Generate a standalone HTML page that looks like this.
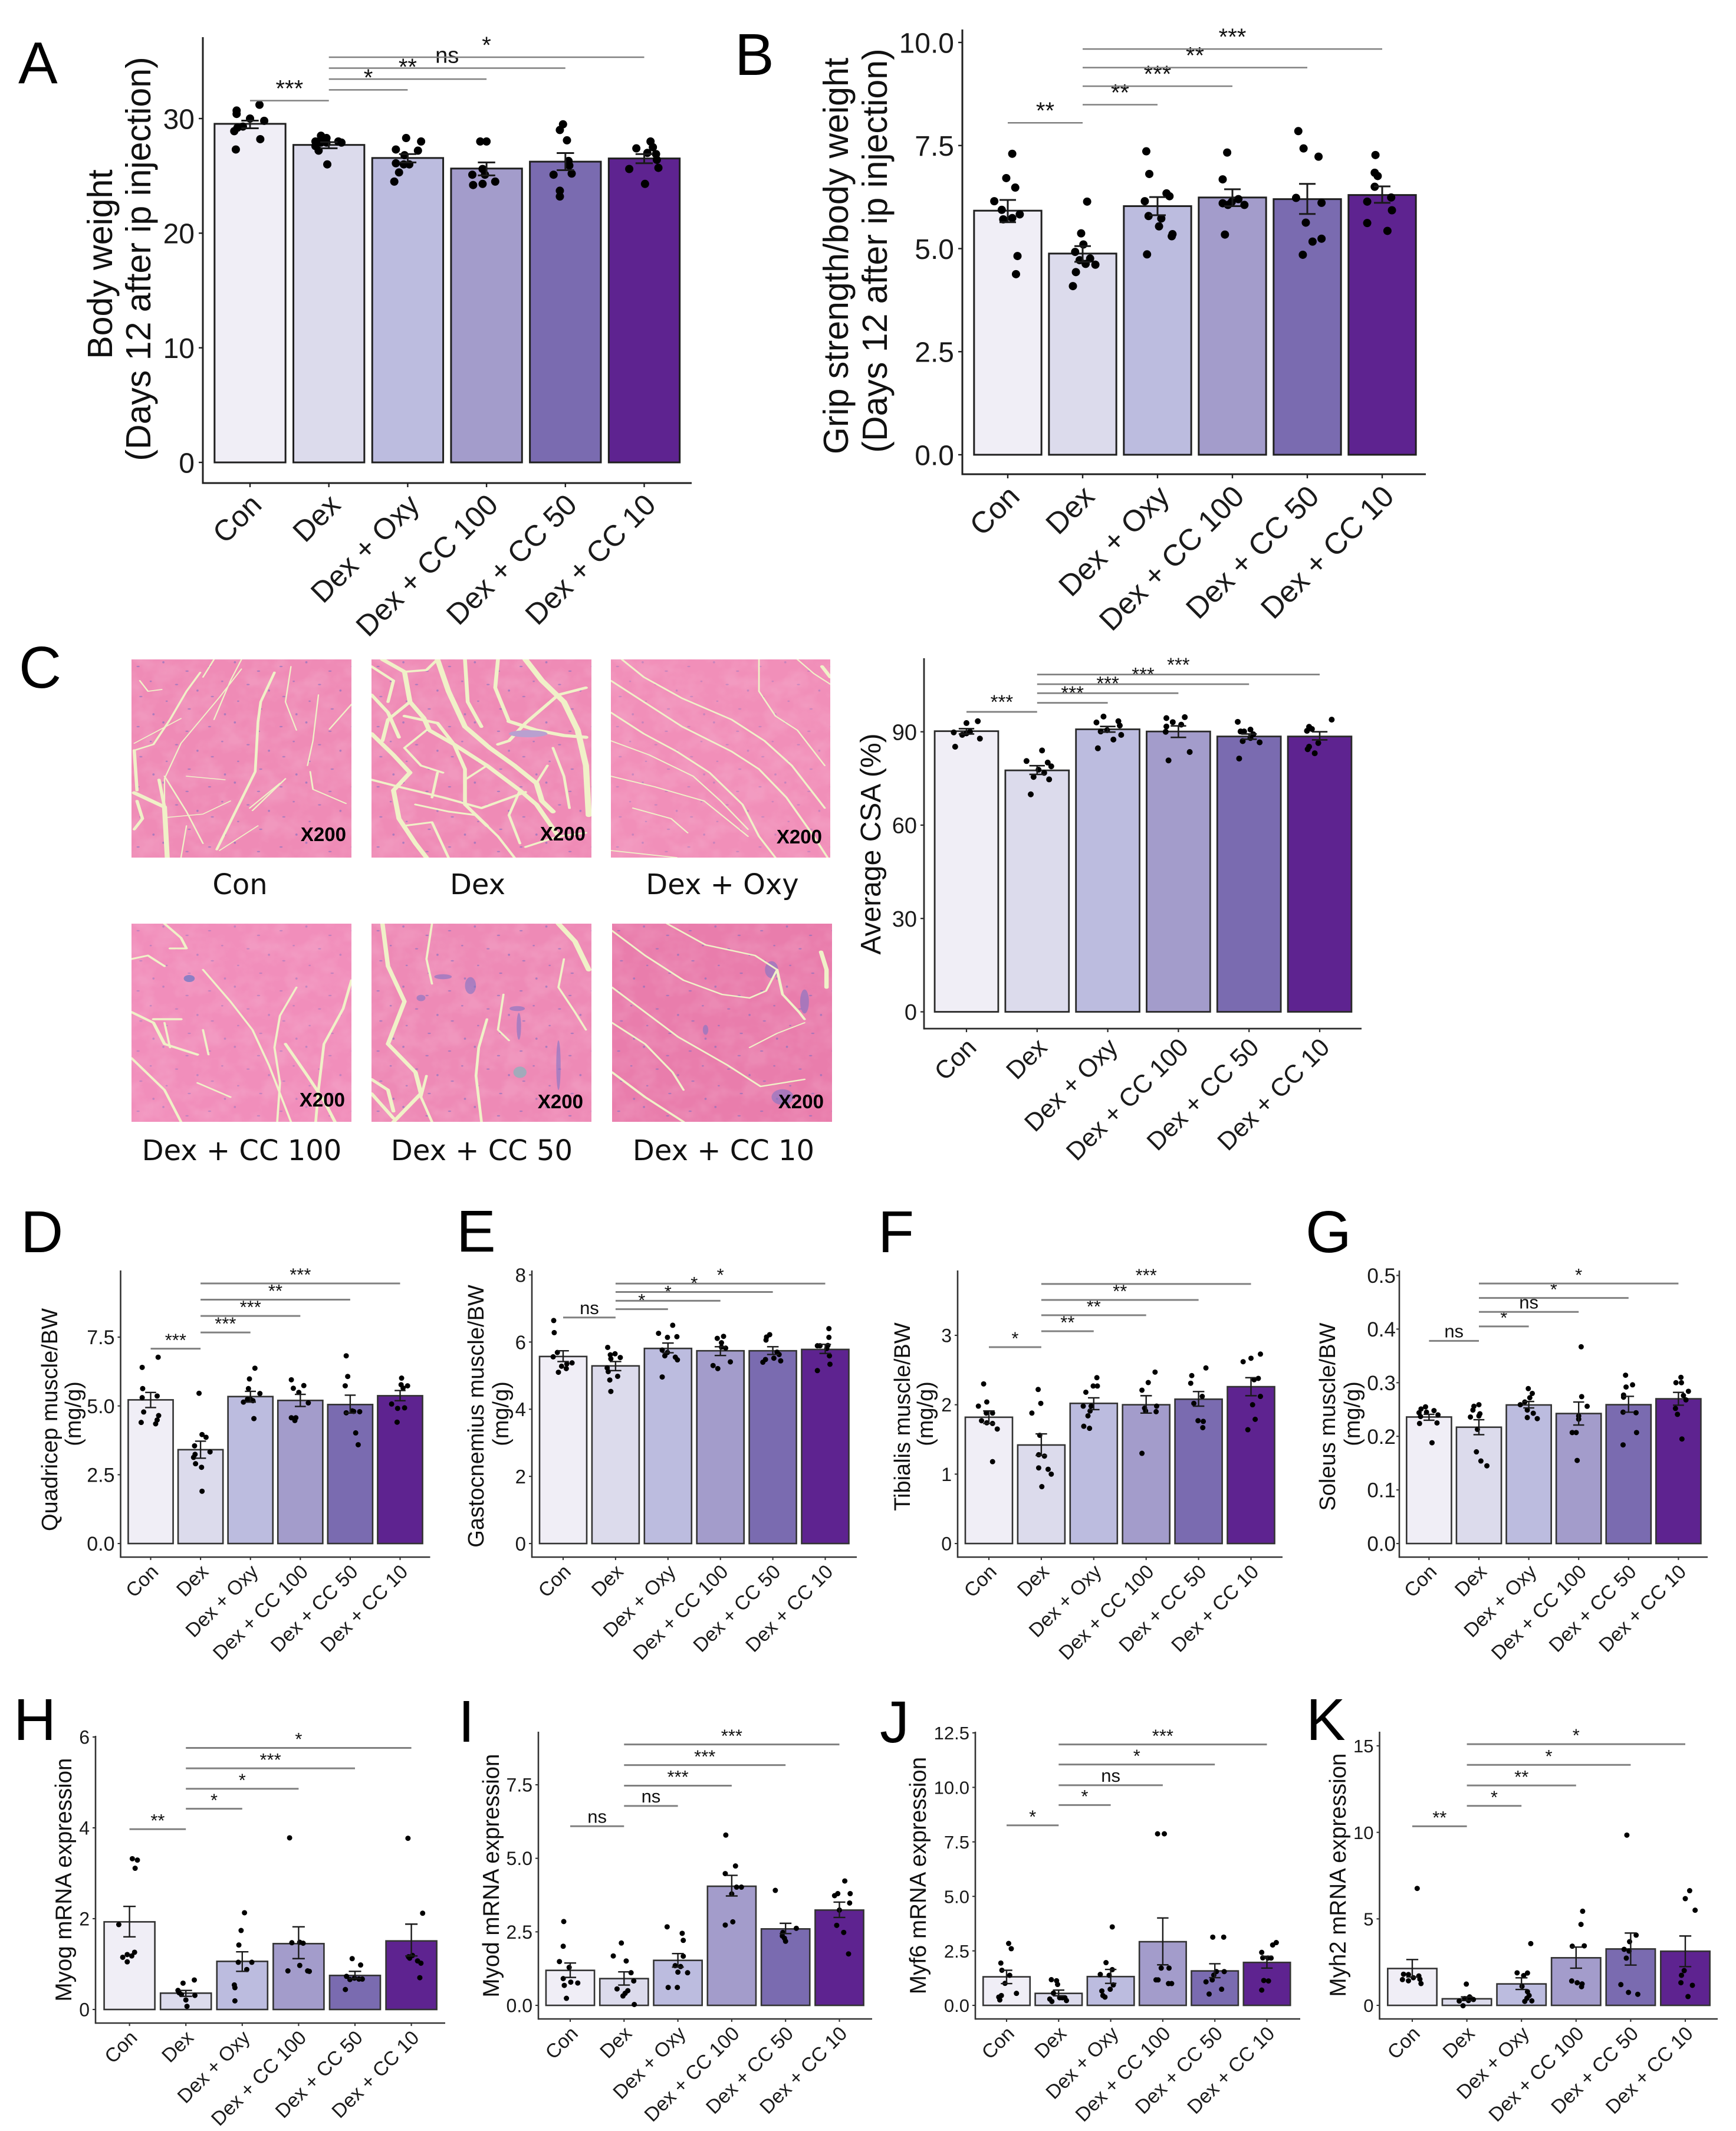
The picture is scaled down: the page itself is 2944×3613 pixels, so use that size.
<!DOCTYPE html>
<html lang="en">
<head>
<meta charset="utf-8">
<title>Body weight, grip strength, muscle and mRNA panels</title>
<style>
html,body{margin:0;padding:0;background:#fff;}
svg{display:block;font-family:"Liberation Sans",Arial,sans-serif;}
.cap{font-family:"DejaVu Sans","Liberation Sans",sans-serif;font-size:48px;fill:#111;text-anchor:middle;}
.mag{font-family:"Liberation Sans",sans-serif;font-weight:bold;font-size:33px;fill:#000;text-anchor:end;}
.letter{font-family:"Liberation Sans",sans-serif;font-size:100px;fill:#000;}
.fib{fill:none;stroke:#f0f1c8;stroke-linejoin:round;stroke-linecap:round;}
</style>
</head>
<body>
<svg id="figure" xmlns="http://www.w3.org/2000/svg" width="2944" height="3613" viewBox="0 0 2944 3613">
<defs>
<filter id="mottle" x="0" y="0" width="100%" height="100%"><feTurbulence type="fractalNoise" baseFrequency="0.025 0.02" numOctaves="3" seed="7"/><feColorMatrix type="matrix" values="0 0 0 0 0.96  0 0 0 0 0.66  0 0 0 0 0.78  0 0 0 2.4 -0.9"/></filter>
<pattern id="nuclei" width="130" height="170" patternUnits="userSpaceOnUse">
<g fill="#7f6cc0" opacity=".6"><ellipse cx="12" cy="20" rx="3" ry="2"/><ellipse cx="58" cy="8" rx="2" ry="3"/><ellipse cx="101" cy="33" rx="3" ry="2"/><ellipse cx="35" cy="62" rx="2" ry="2"/><ellipse cx="82" cy="71" rx="3" ry="2"/><ellipse cx="120" cy="88" rx="2" ry="3"/><ellipse cx="17" cy="105" rx="3" ry="2"/><ellipse cx="64" cy="118" rx="2" ry="2"/><ellipse cx="105" cy="140" rx="3" ry="2"/><ellipse cx="40" cy="155" rx="2" ry="3"/></g>
</pattern>
</defs>

<g>
<text class="letter" x="31" y="141">A</text>
<text class="letter" x="1246" y="127">B</text>
<text class="letter" x="32" y="1166">C</text>
<text class="letter" x="35" y="2123">D</text>
<text class="letter" x="774" y="2122">E</text>
<text class="letter" x="1489" y="2123">F</text>
<text class="letter" x="2214" y="2123">G</text>
<text class="letter" x="23" y="2950">H</text>
<text class="letter" x="777" y="2953">I</text>
<text class="letter" x="1492" y="2954">J</text>
<text class="letter" x="2215" y="2950">K</text>
</g>

<g>
<svg x="223" y="1118" width="373" height="336" viewBox="0 0 400 560" preserveAspectRatio="none">
<rect width="400" height="560" fill="#ef8bb6"/><rect width="400" height="560" filter="url(#mottle)" opacity=".18"/><rect width="400" height="560" fill="url(#nuclei)"/>
<g class="fib">
<path stroke-width="4" d="M125,37 L100,90 L70,170 L40,240 L5,257"/>
<path stroke-width="5" d="M260,37 L235,120 L230,177 L225,317 L190,427 L155,537"/>
<path stroke-width="9" d="M5,377 L60,417 L65,560"/>
<path stroke-width="6" d="M50,340 L60,417 M10,400 L20,450 L5,480 M5,257 L10,370"/>
<path stroke-width="3" d="M280,337 L220,427 M270,350 L215,420"/>
<path stroke-width="3" d="M325,317 L330,367 L390,407 M400,127 L360,197"/>
<path stroke-width="3" d="M15,60 L30,90 L55,85 M60,330 L100,430 L130,520 M150,0 L130,50"/>
<path stroke-width="2.5" d="M200,27 L160,107 L90,237 L60,337 L60,407 M5,237 L90,167 M200,0 L180,60 L150,170 M290,20 L280,120 L300,200 M340,100 L330,230 L320,300 M100,470 L90,560 M160,540 L230,470 M60,447 L130,437 L180,400 M100,330 L170,340"/>
</g></svg>
<svg x="630" y="1118" width="373" height="336" viewBox="0 0 400 560" preserveAspectRatio="none">
<rect width="400" height="560" fill="#ef8bb6"/><rect width="400" height="560" filter="url(#mottle)" opacity=".18"/><rect width="400" height="560" fill="url(#nuclei)"/>
<g class="fib">
<path stroke-width="9" d="M20,0 L60,35 L70,120 L95,165 L105,200 L150,240 L210,300 L270,370 L300,410 L340,500"/>
<path stroke-width="10" d="M120,0 L140,90 L170,190 L215,250 L260,300 L300,350 L310,400 L330,430"/>
<path stroke-width="11" d="M280,0 L310,60 L350,120 L375,200 L390,300 L395,440"/>
<path stroke-width="9" d="M250,175 L300,200 L350,215 L390,220"/>
<path stroke-width="9" d="M0,210 L40,270 L70,320 L40,370 L50,450 L80,520 L100,560"/>
<path stroke-width="6" d="M0,340 L50,360 L130,390 L200,420 L280,375 M0,20 L40,60 L30,120 M60,35 L100,30 L120,0"/>
<path stroke-width="7" d="M170,0 L175,120 L200,190 M60,160 L120,180 L150,240 L170,310 L170,410 L210,470 M230,0 L225,80 L250,175 M70,120 L30,170 L20,230"/>
<path stroke-width="7" d="M390,80 L340,100 L310,140 L280,180 L250,230 L230,240 M0,100 L30,150 L50,220"/>
<path stroke-width="5" d="M80,410 L140,430 L190,440 L230,500 L260,560 M280,530 L340,500 L390,490 M60,470 L110,460 L140,560 M100,200 L60,250 L90,300 L130,320 M210,300 L170,340 M270,370 L250,440 L270,520 M320,300 L300,350 M330,250 L350,330 L360,420 M120,320 L110,390"/>
</g>
<ellipse cx="285" cy="210" rx="35" ry="10" fill="#b9a0d0"/>
</svg>
<svg x="1036" y="1118" width="372" height="336" viewBox="0 0 400 560" preserveAspectRatio="none">
<rect width="400" height="560" fill="#f18fb9"/><rect width="400" height="560" filter="url(#mottle)" opacity=".18"/><rect width="400" height="560" fill="url(#nuclei)" opacity=".6"/>
<g class="fib">
<path stroke-width="4" d="M20,0 L60,50 L130,110 L220,170 L280,230 L330,300 L360,360 L390,420"/>
<path stroke-width="4" d="M0,60 L60,120 L130,190 L220,260 L270,310 L320,390 L370,500 L395,560"/>
<path stroke-width="4" d="M0,150 L60,210 L120,260 L180,320 L240,410 L270,500 L300,560"/>
<path stroke-width="3" d="M0,230 L70,270 L150,330 L200,400 L250,480 M0,330 L80,360 L170,400 L250,500"/>
<path stroke-width="3" d="M270,0 L270,90 L300,160 L340,200 L390,300 M340,0 L370,40 L400,70 M0,540 L60,550 L120,560 M40,420 L110,450 L140,490"/>
<path stroke-width="7" d="M385,20 L400,50"/>
</g></svg>
<svg x="223" y="1566" width="373" height="336" viewBox="0 0 400 560" preserveAspectRatio="none">
<rect width="400" height="560" fill="#f18ebb"/><rect width="400" height="560" filter="url(#mottle)" opacity=".18"/><rect width="400" height="560" fill="url(#nuclei)" opacity=".7"/>
<g class="fib">
<path stroke-width="5" d="M60,0 L90,40 L100,70 L70,70 M0,100 L30,90 L60,120"/>
<path stroke-width="4" d="M130,130 L180,220 L220,300 L250,400 L290,560"/>
<path stroke-width="6" d="M0,250 L40,280 L60,340 L120,370 M40,270 L90,270"/>
<path stroke-width="4" d="M60,280 L70,350 M130,300 L140,370 M300,180 L270,260 L260,350 L270,450 L265,560"/>
<path stroke-width="6" d="M280,340 L320,430 L350,500 L370,560"/>
<path stroke-width="5" d="M400,160 L385,240 L350,340 L340,470 L335,560 M0,380 L60,470 L90,560"/>
<path stroke-width="4" d="M120,450 L180,490"/>
</g>
<circle cx="105" cy="155" r="10" fill="#8d7fc4"/>
</svg>
<svg x="630" y="1566" width="373" height="336" viewBox="0 0 400 560" preserveAspectRatio="none">
<rect width="400" height="560" fill="#ee8ab6"/><rect width="400" height="560" filter="url(#mottle)" opacity=".18"/><rect width="400" height="560" fill="url(#nuclei)"/>
<g fill="#7f74c6" opacity=".6"><ellipse cx="130" cy="150" rx="16" ry="7"/><ellipse cx="180" cy="175" rx="10" ry="24"/><ellipse cx="90" cy="210" rx="8" ry="9"/><ellipse cx="265" cy="240" rx="14" ry="7"/><ellipse cx="268" cy="290" rx="4" ry="38"/><ellipse cx="340" cy="400" rx="4" ry="70"/></g>
<g class="fib">
<path stroke-width="8" d="M20,0 L30,120 L60,220 L30,340 L80,420 L90,480 L40,560"/>
<path stroke-width="4" d="M110,0 L100,100 L110,170 M240,200 L230,300 L250,330"/>
<path stroke-width="10" d="M340,0 L370,50 L395,130"/>
<path stroke-width="5" d="M210,270 L195,350 L190,430 L200,560 M100,430 L90,490 L110,560"/>
<path stroke-width="4" d="M350,100 L340,180 L370,250 L390,300"/>
<path stroke-width="7" d="M0,440 L30,470 L40,530 M0,480 L40,550"/>
</g>
<ellipse cx="270" cy="420" rx="12" ry="16" fill="#8fb2bc" opacity=".8"/>
</svg>
<svg x="1038" y="1566" width="373" height="336" viewBox="0 0 400 560" preserveAspectRatio="none">
<rect width="400" height="560" fill="#e97dac"/><rect width="400" height="560" filter="url(#mottle)" opacity=".15"/><rect width="400" height="560" fill="url(#nuclei)"/>
<g fill="#7f74c6" opacity=".6"><ellipse cx="290" cy="130" rx="12" ry="24"/><ellipse cx="350" cy="220" rx="8" ry="34"/><ellipse cx="310" cy="490" rx="20" ry="22"/><ellipse cx="170" cy="300" rx="5" ry="14"/></g>
<g class="fib">
<path stroke-width="4" d="M0,20 L60,90 L130,160 L200,200 L250,210 M100,0 L170,60 L260,90 L300,130 L280,190 L250,210"/>
<path stroke-width="4" d="M0,180 L60,250 L120,320 L210,400 L270,460 L350,440 M0,280 L60,340 L110,420 L130,470"/>
<path stroke-width="5" d="M0,420 L60,490 L100,530 L130,560 M300,130 L310,200 L340,250 L350,270"/>
<path stroke-width="8" d="M380,80 L390,130 L390,180"/>
<path stroke-width="3" d="M350,280 L300,310 L250,350"/>
</g></svg>
<g>
<text class="mag" x="587" y="1426">X200</text>
<text class="mag" x="993" y="1425">X200</text>
<text class="mag" x="1394" y="1430">X200</text>
<text class="mag" x="585" y="1876">X200</text>
<text class="mag" x="989" y="1879">X200</text>
<text class="mag" x="1397" y="1879">X200</text>
<text class="cap" x="407" y="1516">Con</text>
<text class="cap" x="810" y="1516">Dex</text>
<text class="cap" x="1225" y="1516">Dex + Oxy</text>
<text class="cap" x="410" y="1967">Dex + CC 100</text>
<text class="cap" x="817" y="1967">Dex + CC 50</text>
<text class="cap" x="1227" y="1967">Dex + CC 10</text>
</g>
</g>
<g id="charts"></g>
</svg>

<script>
const categories = ['Con','Dex','Dex + Oxy','Dex + CC 100','Dex + CC 50','Dex + CC 10'];
const barFills = ['#f0eef6','#dcdbec','#bcbcdf','#a39ccb','#7a6bb0','#5e2390'];
const bracketFrom = [0,1,1,1,1];
const bracketTo = [1,2,3,4,5];

/* A */
const aTicks = ['0','10','20','30'];
const aMeans = [29.54,27.7,26.56,25.64,26.24,26.52];
const aErrHigh = [29.82,27.94,26.9,26.17,26.99,26.9];
const aErrLow = [29.15,27.41,26.17,25.04,25.5,26.1];
const aPointValues = [[30.7,30.4,31.2,30,29.8,29.3,29.2,28.9,28.2,27.3],[28.5,28.3,28,28,27.9,27.9,27.9,27.6,27.2,26],[28.3,28,27.3,27.2,26.8,26.1,26,26,25.3,24.5],[28,28,25.6,25.1,25.1,24.2,24.3,24.5],[29.5,29,28.1,26.3,25.9,25.1,25.2,23.7,23.2],[28,27.5,27.4,27,26.9,26.4,25.7,25.6,24.3]];
const aPointJitter = [[-.17,-.17,.12,0,.18,-.09,-.16,-.2,.13,-.18],[-.1,-.03,-.17,.12,.16,-.1,-.03,-.17,-.13,-.02],[-.02,.17,-.15,.13,-.04,-.15,.02,-.05,-.11,-.17],[-.08,0,-.05,-.18,-.02,-.17,-.05,.11],[-.03,-.07,.02,.04,.05,-.15,.08,-.07,-.07],[.08,.11,-.1,.04,.15,.16,.18,-.19,.01]];
const aBracketLevels = [31.56,32.5,33.44,34.4,35.35];
const aBracketLabels = ['***','*','**','ns','*'];

/* B */
const bTicks = ['0.0','2.5','5.0','7.5','10.0'];
const bMeans = [5.92,4.88,6.03,6.24,6.2,6.3];
const bErrHigh = [6.18,5.06,6.25,6.44,6.57,6.51];
const bErrLow = [5.64,4.68,5.81,6.03,5.84,6.11];
const bPointValues = [[7.3,6.71,6.48,6.15,5.94,5.83,5.74,5.71,4.82,4.38],[6.14,5.37,5.1,4.92,4.76,4.72,4.63,4.61,4.43,4.09],[7.36,6.81,6.34,6.27,6.15,5.79,5.73,5.54,5.35,5.3,4.86],[7.33,6.68,6.2,6.1,6.06,6.06,6.13,5.34],[7.85,7.43,7.23,6.23,6.11,5.63,5.24,5.17,4.85],[7.27,6.84,6.76,6.5,6.24,6.14,5.93,5.62,5.43]];
const bPointJitter = [[.06,-.02,.1,-.18,-.08,.16,.06,-.06,.13,.11],[.06,-.02,.01,-.1,.1,-.04,.04,.17,-.09,-.13],[-.15,-.11,.12,.16,-.17,-.12,.05,.02,.2,.19,-.14],[-.07,-.13,.08,-.13,-.06,.16,-.01,-.1],[-.12,-.05,.15,-.15,.19,-.02,.19,.07,-.06],[-.09,-.1,-.06,-.1,.12,-.2,.13,-.2,.07]];
const bBracketLevels = [8.05,8.49,8.94,9.39,9.84];
const bBracketLabels = ['**','**','***','**','***'];

/* C */
const cTicks = ['0','30','60','90'];
const cMeans = [90.2,77.6,90.8,90.1,88.5,88.5];
const cErrHigh = [91,79.1,91.7,91.9,89.3,90];
const cErrLow = [89.3,76.3,89.9,88.2,87.6,87.4];
const cPointValues = [[92.8,93.4,89.8,89,89.5,90,87.8,85.2],[84,80.6,80.1,78.9,77.8,76.8,75.5,74.7,69.9],[94.9,93,93.4,92,90.1,90.5,89,87.5,84.7],[94.4,94.7,93.1,92.3,91.7,90,83.5,80.8],[93.2,90.7,90.1,90.1,89.2,87,88,86.6,81.4],[93.9,91.6,90.9,90.3,86.4,85.2,84.4,83.1]];
const cPointJitter = [[0,.16,-.18,-.06,0,.05,.19,-.16],[.07,-.15,.15,.2,.02,.1,-.05,.17,-.09],[-.06,-.16,.15,.17,-.1,-.01,.19,.08,-.14],[-.17,.09,-.08,.04,-.17,-.18,.16,-.14],[-.16,.02,-.12,-.07,.06,-.09,.02,.15,-.14],[.17,-.15,-.11,-.18,-.02,-.15,-.17,-.07]];
const cBracketLevels = [96.4,99.3,102.4,105.3,108.4];
const cBracketLabels = ['***','***','***','***','***'];

/* D */
const dTicks = ['0.0','2.5','5.0','7.5'];
const dMeans = [5.22,3.41,5.34,5.2,5.05,5.37];
const dErrHigh = [5.49,3.72,5.53,5.42,5.39,5.56];
const dErrLow = [4.94,3.1,5.14,4.98,4.74,5.19];
const dPointValues = [[6.77,6.4,5.63,5.36,5.3,4.78,4.65,4.49,4.35,4.4],[5.46,3.96,3.86,3.55,3.33,3.24,3.13,2.9,2.77,1.9],[6.37,5.98,5.63,5.45,5.24,5.19,5.14,5.24,4.54],[5.95,5.74,5.64,5.49,5.11,4.57,4.57,4.47],[6.82,6.07,5.73,4.82,4.8,4.75,4.79,4.02,3.59],[6.01,5.77,5.73,5.65,5.07,4.91,4.93,4.41]];
const dPointJitter = [[.15,-.17,-.16,.13,-.17,-.14,.16,.13,.1,-.19],[-.03,.03,.11,-.12,.19,-.11,-.14,-.1,.02,.03],[.09,-.02,-.04,.19,-.06,.05,-.14,0,.07],[-.18,.07,-.14,-.03,.16,-.09,-.18,-.11],[-.08,-.05,-.1,.04,.07,-.08,.19,.11,.16],[.03,.02,.15,.06,-.17,-.05,.09,-.06]];
const dBracketLevels = [7.08,7.67,8.27,8.86,9.45];
const dBracketLabels = ['***','***','***','**','***'];

/* E */
const eTicks = ['0','2','4','6','8'];
const eMeans = [5.57,5.29,5.81,5.74,5.74,5.78];
const eErrHigh = [5.74,5.42,5.97,5.86,5.86,5.93];
const eErrLow = [5.42,5.15,5.68,5.6,5.63,5.66];
const ePointValues = [[6.64,6.28,5.69,5.56,5.28,5.38,5.35,5.21,5.1],[5.84,5.65,5.62,5.54,5.5,5.23,5.12,4.98,4.87,4.53],[6.5,6.26,6.14,6.16,5.76,5.69,5.59,5.55,5.47,4.96],[6.17,6.11,5.98,5.82,5.85,5.41,5.3,5.21],[6.22,6.15,6.06,5.7,5.63,5.52,5.44,5.48,5.4],[6.4,6.14,5.89,5.89,5.9,5.81,5.59,5.34,5.15]];
const ePointJitter = [[-.18,-.17,-.11,-.19,-.03,.17,.07,.06,-.09],[-.15,-.01,-.1,.09,-.09,-.16,-.14,.04,-.11,-.09],[.09,-.18,-.01,.17,-.11,-.01,-.06,.14,.18,-.11],[.06,-.06,.02,.1,.02,.19,-.14,-.05],[-.06,-.12,-.13,.08,.12,.02,.15,-.14,-.19],[.07,.07,-.15,-.1,.05,.03,.08,.09,-.15]];
const eBracketLevels = [6.73,6.98,7.23,7.49,7.74];
const eBracketLabels = ['ns','*','*','*','*'];

/* F */
const fTicks = ['0','1','2','3'];
const fMeans = [1.82,1.42,2.02,2,2.08,2.26];
const fErrHigh = [1.91,1.58,2.1,2.13,2.19,2.39];
const fErrLow = [1.73,1.27,1.93,1.88,1.98,2.13];
const fPointValues = [[2.3,2.04,1.98,1.88,1.88,1.77,1.74,1.73,1.65,1.18],[2.22,2.02,1.88,1.56,1.28,1.26,1.09,1.07,1,.82],[2.39,2.27,2.27,2.18,1.98,1.98,1.91,1.84,1.69,1.66],[2.47,2.32,2.21,1.95,1.98,1.91,1.9,1.3],[2.53,2.42,2.31,2.12,2.02,1.77,1.76,1.67],[2.73,2.67,2.62,2.38,2.36,2.12,2,1.79,1.64]];
const fPointJitter = [[-.1,-.04,-.2,.07,-.05,-.14,-.04,.07,.16,.07],[-.06,-.01,-.18,-.03,-.05,.06,-.05,.13,.19,.01],[.06,-.01,.07,-.15,-.2,-.05,-.07,-.11,-.19,-.08],[.17,.04,-.08,-.03,.2,-.01,.19,-.08],[.14,-.13,-.15,.07,-.09,-.01,.09,.08],[.18,0,-.15,.14,.06,.18,.03,.08,-.06]];
const fBracketLevels = [2.83,3.06,3.29,3.51,3.74];
const fBracketLabels = ['*','**','**','**','***'];

/* G */
const gTicks = ['0.0','0.1','0.2','0.3','0.4','0.5'];
const gMeans = [.236,.217,.2585,.2425,.259,.27];
const gErrHigh = [.241,.231,.265,.264,.2745,.282];
const gErrLow = [.23,.203,.253,.221,.245,.258];
const gPointValues = [[.255,.251,.248,.244,.24,.237,.245,.225,.224,.188],[.259,.256,.249,.242,.236,.238,.213,.171,.154,.145],[.289,.28,.272,.264,.259,.249,.243,.233,.235],[.367,.274,.256,.238,.232,.207,.207,.155],[.314,.296,.292,.277,.273,.245,.244,.207,.184],[.31,.3,.3,.284,.276,.268,.252,.241,.195]];
const gPointJitter = [[-.07,-.16,.1,-.2,.18,-.17,-.05,.16,-.19,.06],[0,-.1,-.12,.02,-.17,0,-.03,-.05,.04,.16],[-.01,.07,.02,-.08,-.17,-.03,.09,.17,-.03],[.05,.06,.17,0,0,-.13,-.05,-.03],[-.06,.08,-.05,-.1,-.1,-.11,.15,.16,-.11],[.05,-.05,.06,.2,.1,.15,-.06,-.02,.07]];
const gBracketLevels = [.378,.405,.432,.458,.485];
const gBracketLabels = ['ns','*','ns','*','*'];

/* H */
const hTicks = ['0','2','4','6'];
const hMeans = [1.93,.36,1.06,1.45,.75,1.51];
const hErrHigh = [2.27,.42,1.27,1.82,.84,1.88];
const hErrLow = [1.6,.29,.84,1.12,.68,1.18];
const hPointValues = [[3.32,3.29,3.11,1.87,1.26,1.21,1.18,1.15,1.05],[.58,.65,.42,.37,.33,.31,.21,.07],[2.13,1.74,1.42,1.04,1.04,.88,.54,.48,.19],[3.78,1.47,1.48,1.46,.97,.85,.85,.84],[1.12,.98,.73,.66,.69,.67,.67,.44],[3.77,2.12,1.19,1.16,1.13,1.07,1.02,.7]];
const hPointJitter = [[.05,.14,.1,-.19,.09,-.04,.04,-.12,-.04],[-.05,.15,-.14,-.12,-.08,.16,0,.02],[.04,-.02,-.06,-.07,.17,.08,-.14,-.13,-.13],[-.16,-.12,.02,.08,.02,-.19,.16,.19],[-.05,.1,-.15,-.09,-.01,.07,.13,-.17],[-.06,.2,.02,-.05,-.03,.11,.17,.15]];
const hBracketLevels = [3.97,4.42,4.86,5.31,5.76];
const hBracketLabels = ['**','*','*','***','*'];

/* I */
const iTicks = ['0.0','2.5','5.0','7.5'];
const iMeans = [1.19,.91,1.53,4.05,2.6,3.24];
const iErrHigh = [1.44,1.14,1.76,4.42,2.79,3.51];
const iErrLow = [.95,.69,1.3,3.72,2.44,2.99];
const iPointValues = [[2.85,2.01,1.49,1.29,.91,.79,.76,.68,.24],[2.12,1.68,1.51,1.11,.83,.56,.5,.41,.32,.03],[2.67,2.45,2.21,1.67,1.35,1.32,1.13,1.11,.61,.61],[5.79,4.74,4.48,4.02,4.02,3.79,2.84,2.73],[3.91,2.62,2.48,2.36,2.28,2.18],[4.23,3.8,3.73,3.8,3.48,3.24,2.72,2.48,1.75]];
const iPointJitter = [[-.12,-.13,-.2,-.02,-.13,.01,.14,-.11,-.07],[-.05,-.2,.04,.13,.18,-.13,.07,.02,-.02,.19],[-.2,.08,.1,.1,-.05,.05,0,.18,-.18,-.01],[-.11,.07,-.12,.09,.18,0,.02,-.12],[-.19,.2,-.05,-.06,-.02,0],[.1,-.03,-.09,.2,.19,0,-.05,.08,.17]];
const iBracketLevels = [6.09,6.78,7.47,8.17,8.87];
const iBracketLabels = ['ns','ns','***','***','***'];

/* J */
const jTicks = ['0.0','2.5','5.0','7.5','10.0','12.5'];
const jMeans = [1.31,.55,1.32,2.92,1.58,1.97];
const jErrHigh = [1.61,.7,1.65,4.01,1.91,2.25];
const jErrLow = [1,.44,1.01,1.86,1.27,1.71];
const jPointValues = [[2.84,2.6,1.94,1.61,1.38,1.01,.55,.45,.38,.25],[1.18,1.13,.96,.56,.35,.29,.35,.18,.22,.35],[3.6,1.96,1.64,1.42,1.38,.94,.74,.66,.45,.38],[7.87,7.87,1.71,1.71,1.17,1.17,1,1],[3.13,3.13,1.55,1.55,1.39,1.17,1.08,.74,.52],[2.88,2.77,2.43,2.18,2.17,2.17,1.14,1.12,.7]];
const jPointJitter = [[.04,.09,-.11,-.09,.06,-.03,.19,-.1,-.15,-.13],[-.14,-.04,-.02,-.1,.02,-.17,.07,-.13,.15,.12],[.03,-.09,.03,-.2,-.03,.05,-.01,-.17,-.15,-.11],[-.1,.03,-.03,.12,-.13,-.09,.11,.17],[-.04,.17,.18,.03,-.02,-.05,-.17,.13,-.11],[.18,.11,-.1,-.08,.08,.02,-.06,.03,-.1]];
const jBracketLevels = [8.26,9.19,10.1,11.05,11.97];
const jBracketLabels = ['*','*','ns','*','***'];

/* K */
const kTicks = ['0','5','10','15'];
const kMeans = [2.13,.38,1.24,2.75,3.26,3.13];
const kErrHigh = [2.65,.49,1.59,3.37,4.18,4.01];
const kErrLow = [1.64,.28,.92,2.15,2.33,2.24];
const kPointValues = [[6.76,1.8,1.78,1.7,1.6,1.49,1.42,1.51,1.26],[1.23,.49,.39,.34,.25,.28,-.02],[3.57,1.88,1.87,1.72,1.1,.79,.57,.41,.26,.23],[5.44,4.68,3.42,3.44,1.41,1.31,1.24,1.08],[9.84,4.06,3.68,3.24,3.14,2.73,1.2,.75,.64],[6.63,6.17,5.5,2.01,1.74,1.31,1.16,.51]];
const kPointJitter = [[.09,-.16,-.07,.12,.02,-.18,-.07,.14,.16],[-.01,.05,-.04,.12,-.14,.03,-.07],[.17,-.08,.11,.04,.01,.11,.14,.1,.19,.06],[.12,.09,-.07,.15,-.08,.02,.11,.1],[-.07,.1,-.02,-.12,-.03,-.08,-.18,-.04,.13],[.08,0,.18,-.02,-.07,-.08,.13,.05]];
const kBracketLevels = [10.35,11.53,12.71,13.9,15.1];
const kBracketLabels = ['**','*','**','*','*'];

const SVGNS = 'http://www.w3.org/2000/svg';
const host = document.getElementById('charts');

function make(parent, tag, attrs, text) {
  const el = document.createElementNS(SVGNS, tag);
  for (const key in attrs) el.setAttribute(key, attrs[key]);
  if (text !== undefined) el.textContent = text;
  parent.appendChild(el);
  return el;
}

function drawChart(c) {
  const group = make(host, 'g', {});
  
  
  const px = i => c.x0 + c.step * i;
  const unit = (c.y0 - c.yRefPx) / c.yRefVal;
  const py = v => c.y0 - v * unit;
  const barW = c.step * 0.9;

  c.means.forEach((m, i) => {
    const bar = make(group, 'rect', {x: px(i) - barW / 2, y: py(m), width: barW, height: py(0) - py(m), fill: barFills[i], stroke: c.ink, 'stroke-width': c.barStroke});
    
    
  });

  c.pointValues.forEach((vals, i) => {
    vals.forEach((v, k) => {
      const dot = make(group, 'circle', {cx: px(i) + c.pointJitter[i][k] * c.step, cy: py(v), r: c.dot, fill: '#000'});
      
      
    });
  });

  c.means.forEach((m, i) => {
    const cap = c.step * 0.11;
    const err = make(group, 'path', {d: 'M' + (px(i) - cap) + ',' + py(c.errHigh[i]) + 'H' + (px(i) + cap) + 'M' + px(i) + ',' + py(c.errHigh[i]) + 'V' + py(c.errLow[i]) + 'M' + (px(i) - cap) + ',' + py(c.errLow[i]) + 'H' + (px(i) + cap), fill: 'none', stroke: '#1a1a1a', 'stroke-width': c.errStroke});
    
    
  });

  c.bracketLevels.forEach((lvl, i) => {
    const line = make(group, 'line', {x1: px(bracketFrom[i]), x2: px(bracketTo[i]), y1: py(lvl), y2: py(lvl), stroke: '#808080', 'stroke-width': c.bracketStroke});
    
    
    const isNs = c.bracketLabels[i] === 'ns';
    const size = isNs ? c.nsSize : c.starSize;
    const baseline = isNs ? py(lvl) - c.nsGap + 0.26 * size : py(lvl) - c.starGap + 0.57 * size;
    const label = make(group, 'text', {x: (px(bracketFrom[i]) + px(bracketTo[i])) / 2, y: baseline, 'font-size': size, 'text-anchor': 'middle', fill: '#111'}, c.bracketLabels[i]);
    
    
  });

  const yAxis = make(group, 'line', {x1: c.axisX, x2: c.axisX, y1: c.axisTop, y2: c.axisBottom + c.axisStroke / 2, stroke: c.ink, 'stroke-width': c.axisStroke});
  
  
  const xAxis = make(group, 'line', {x1: c.axisX, x2: c.axisRight, y1: c.axisBottom, y2: c.axisBottom, stroke: c.ink, 'stroke-width': c.axisStroke});
  
  

  c.ticks.forEach(t => {
    const v = Number(t);
    const tick = make(group, 'line', {x1: c.axisX - c.tickLen, x2: c.axisX, y1: py(v), y2: py(v), stroke: c.ink, 'stroke-width': c.axisStroke * 0.8});
    
    
    const lab = make(group, 'text', {x: c.axisX - c.tickLen - c.tickPad, y: py(v) + c.yFont * 0.36, 'font-size': c.yFont, 'text-anchor': 'end', fill: '#1a1a1a'}, t);
    
    
  });

  categories.forEach((name, i) => {
    const tick = make(group, 'line', {x1: px(i), x2: px(i), y1: c.axisBottom, y2: c.axisBottom + c.tickLen, stroke: c.ink, 'stroke-width': c.axisStroke * 0.8});
    
    
    const tx = px(i) + c.xFont * 0.45;
    const ty = c.axisBottom + c.xFont * 0.8;
    const lab = make(group, 'text', {x: tx, y: ty, 'font-size': c.xFont, 'text-anchor': 'end', fill: '#1a1a1a', transform: 'rotate(-45 ' + tx + ' ' + ty + ')'}, name);
    
    
  });

  c.title.forEach(line => {
    const ty = make(group, 'text', {x: line[1], y: line[2], 'font-size': c.titleFont, 'text-anchor': 'middle', fill: '#111', transform: 'rotate(-90 ' + line[1] + ' ' + line[2] + ')'}, line[0]);
    
    
  });
}

const bigStyle = {ink: '#1f1f1f', barStroke: 3, errStroke: 3, bracketStroke: 2.5, axisStroke: 3, tickLen: 7, tickPad: 7, dot: 7, yFont: 48, xFont: 50, titleFont: 59, starSize: 40, starGap: 30, nsSize: 38, nsGap: 19};
const midStyle = {ink: '#2a2a2a', barStroke: 2.8, errStroke: 2.6, bracketStroke: 2.8, axisStroke: 2.8, tickLen: 6, tickPad: 6, dot: 5, yFont: 38, xFont: 43, titleFont: 48, starSize: 33, starGap: 24, nsSize: 33, nsGap: 16};
const smallStyle = {ink: '#333333', barStroke: 2.6, errStroke: 2.4, bracketStroke: 3, axisStroke: 2.6, tickLen: 5, tickPad: 5, dot: 4.5, yFont: 33, xFont: 33.5, titleFont: 38, starSize: 31, starGap: 22, nsSize: 31, nsGap: 14};

drawChart(Object.assign({}, bigStyle, {name: 'chart-a-body-weight', ticks: aTicks, means: aMeans, errHigh: aErrHigh, errLow: aErrLow, pointValues: aPointValues, pointJitter: aPointJitter, bracketLevels: aBracketLevels, bracketLabels: aBracketLabels,
  axisX: 344, axisTop: 63, axisBottom: 819, axisRight: 1173, x0: 424, step: 133.7, y0: 784, yRefPx: 201, yRefVal: 30,
  title: [['Body weight', 190, 448], ['(Days 12 after ip injection)', 255, 439]]}));
drawChart(Object.assign({}, bigStyle, {name: 'chart-b-grip-strength', ticks: bTicks, means: bMeans, errHigh: bErrHigh, errLow: bErrLow, pointValues: bPointValues, pointJitter: bPointJitter, bracketLevels: bBracketLevels, bracketLabels: bBracketLabels, xFont: 51,
  axisX: 1632, axisTop: 50, axisBottom: 804, axisRight: 2418, x0: 1709, step: 127, y0: 771, yRefPx: 72, yRefVal: 10,
  title: [['Grip strength/body weight', 1438, 434], ['(Days 12 after ip injection)', 1504, 425]]}));
drawChart(Object.assign({}, midStyle, {name: 'chart-c-average-csa', ticks: cTicks, means: cMeans, errHigh: cErrHigh, errLow: cErrLow, pointValues: cPointValues, pointJitter: cPointJitter, bracketLevels: cBracketLevels, bracketLabels: cBracketLabels,
  axisX: 1567, axisTop: 1116, axisBottom: 1744, axisRight: 2309, x0: 1639, step: 119.8, y0: 1715.5, yRefPx: 1240.7, yRefVal: 90,
  title: [['Average CSA (%)', 1493, 1431]]}));
drawChart(Object.assign({}, smallStyle, {name: 'chart-d-quadricep', ticks: dTicks, means: dMeans, errHigh: dErrHigh, errLow: dErrLow, pointValues: dPointValues, pointJitter: dPointJitter, bracketLevels: dBracketLevels, bracketLabels: dBracketLabels, yFont: 34,
  axisX: 204.5, axisTop: 2154, axisBottom: 2640, axisRight: 729.5, x0: 255.5, step: 84.6, y0: 2617, yRefPx: 2267, yRefVal: 7.5,
  title: [['Quadricep muscle/BW', 97, 2407], ['(mg/g)', 137, 2397]]}));
drawChart(Object.assign({}, smallStyle, {name: 'chart-e-gastocnemius', ticks: eTicks, means: eMeans, errHigh: eErrHigh, errLow: eErrLow, pointValues: ePointValues, pointJitter: ePointJitter, bracketLevels: eBracketLevels, bracketLabels: eBracketLabels,
  axisX: 902, axisTop: 2154, axisBottom: 2640, axisRight: 1453, x0: 955, step: 88.9, y0: 2617, yRefPx: 2161.5, yRefVal: 8,
  title: [['Gastocnemius muscle/BW', 820, 2401], ['(mg/g)', 862, 2397]]}));
drawChart(Object.assign({}, smallStyle, {name: 'chart-f-tibialis', ticks: fTicks, means: fMeans, errHigh: fErrHigh, errLow: fErrLow, pointValues: fPointValues, pointJitter: fPointJitter, bracketLevels: fBracketLevels, bracketLabels: fBracketLabels, yFont: 32,
  axisX: 1624, axisTop: 2154, axisBottom: 2640, axisRight: 2175, x0: 1677, step: 88.9, y0: 2617, yRefPx: 2264, yRefVal: 3,
  title: [['Tibialis muscle/BW', 1543, 2402], ['(mg/g)', 1582, 2397]]}));
drawChart(Object.assign({}, smallStyle, {name: 'chart-g-soleus', ticks: gTicks, means: gMeans, errHigh: gErrHigh, errLow: gErrLow, pointValues: gPointValues, pointJitter: gPointJitter, bracketLevels: gBracketLevels, bracketLabels: gBracketLabels, yFont: 35, tickPad: 1,
  axisX: 2373, axisTop: 2154, axisBottom: 2640, axisRight: 2896, x0: 2423.4, step: 84.6, y0: 2617, yRefPx: 2162.5, yRefVal: 0.5,
  title: [['Soleus muscle/BW', 2264, 2402], ['(mg/g)', 2306, 2397]]}));
drawChart(Object.assign({}, smallStyle, {name: 'chart-h-myog', ticks: hTicks, means: hMeans, errHigh: hErrHigh, errLow: hErrLow, pointValues: hPointValues, pointJitter: hPointJitter, bracketLevels: hBracketLevels, bracketLabels: hBracketLabels, yFont: 32,
  axisX: 162, axisTop: 2943, axisBottom: 3430, axisRight: 755, x0: 219.6, step: 95.6, y0: 3407, yRefPx: 2945, yRefVal: 6, titleFont: 38.5,
  title: [['Myog mRNA expression', 121, 3187]]}));
drawChart(Object.assign({}, smallStyle, {name: 'chart-i-myod', ticks: iTicks, means: iMeans, errHigh: iErrHigh, errLow: iErrLow, pointValues: iPointValues, pointJitter: iPointJitter, bracketLevels: iBracketLevels, bracketLabels: iBracketLabels, yFont: 32,
  axisX: 913, axisTop: 2936, axisBottom: 3423, axisRight: 1479, x0: 967, step: 91.3, y0: 3400, yRefPx: 3026, yRefVal: 7.5, titleFont: 38.5,
  title: [['Myod mRNA expression', 846, 3180]]}));
drawChart(Object.assign({}, smallStyle, {name: 'chart-j-myf6', ticks: jTicks, means: jMeans, errHigh: jErrHigh, errLow: jErrLow, pointValues: jPointValues, pointJitter: jPointJitter, bracketLevels: jBracketLevels, bracketLabels: jBracketLabels, yFont: 31,
  axisX: 1654, axisTop: 2936, axisBottom: 3423, axisRight: 2205, x0: 1707, step: 88.3, y0: 3400, yRefPx: 2938, yRefVal: 12.5, titleFont: 38.5,
  title: [['Myf6 mRNA expression', 1570, 3180]]}));
drawChart(Object.assign({}, smallStyle, {name: 'chart-k-myh2', ticks: kTicks, means: kMeans, errHigh: kErrHigh, errLow: kErrLow, pointValues: kPointValues, pointJitter: kPointJitter, bracketLevels: kBracketLevels, bracketLabels: kBracketLabels, yFont: 31,
  axisX: 2339.5, axisTop: 2936, axisBottom: 3423, axisRight: 2913, x0: 2395, step: 92.6, y0: 3400, yRefPx: 2960, yRefVal: 15, titleFont: 38.5,
  title: [['Myh2 mRNA expression', 2282, 3179]]}));
</script>
</body>
</html>
